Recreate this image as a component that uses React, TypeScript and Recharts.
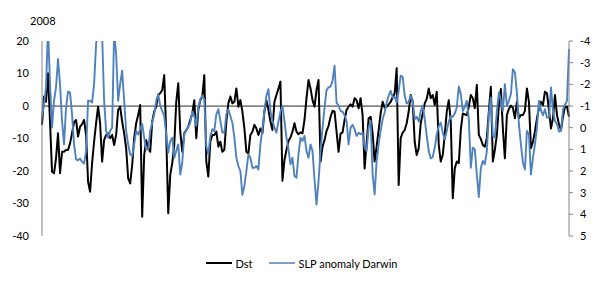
import React from 'react';
import { LineChart, Line, XAxis, YAxis, ReferenceLine, Legend } from 'recharts';

// Dst (left axis, nT) — sampled every ~2 days through 2008
const dstPart1 = [-5.8, 2.9, 1.3, 10.1, -4.8, -20.2, -20.7, -16.1, -8.4, -20.7, -14.1, -14.1, -13.5, -13.5, -11.5, -8.4, -5.0, -4.3, -9.4, -6.4, -5.6, -4.3, -8.9, -23.3, -26.4, -17.6, -11.0, -5.3, -0.2, -5.3, -17.1, -10.5, -8.9, -8.4, -9.9, -8.9, -12.0, -8.9, -1.2, -0.2, -4.8, -8.4, -13.0, -22.3, -23.8, -18.2, -9.9, -5.3, -2.8, 0.3, -34.1, -15.1, -10.5];
const dstPart2 = [-13.0, -14.1, -4.8, -1.7, -0.2, 3.4, 3.9, 4.9, 9.5, -8.9, -33.0, -21.2, -17.6, -12.0, 1.3, 7.0, -7.9, -14.1, -8.4, -7.4, -6.4, -4.3, -2.3, 1.8, -9.9, -1.2, 1.8, 2.9, 9.5, -17.1, -21.7, -11.0, -8.9, -8.9, -7.9, -12.5, -11.0, -14.1, -13.5, -4.8, 0.8, 2.9, 0.8, 1.3, 5.4, -0.2, 1.8, -1.7, -6.9, -14.1, -14.6, -8.9, -7.9];
const dstPart3 = [-5.8, -6.9, -8.9, -6.9, -8.4, -1.7, 1.8, -1.2, -4.8, -7.4, 1.3, 3.4, 5.4, 7.5, -23.0, -16.6, -13.5, -10.8, -9.7, -7.9, -5.3, -7.9, -8.7, -8.1, -8.4, -4.3, 2.4, 8.0, 5.4, 1.8, -0.2, 4.9, 8.0, -17.1, -12.5, -10.5, -7.7, -6.1, -3.3, -1.5, -1.7, -7.9, -14.1, -8.5, -8.1, -4.3, -1.2, -0.2, 0.5, -0.2, 2.4, 1.8, -0.7];
const dstPart4 = [2.4, -2.8, -19.2, -11.5, -3.8, -3.3, -8.4, -17.1, -12.5, -7.4, -2.3, 1.3, -0.5, -0.2, 0.5, 1.3, 2.6, 3.9, 11.6, -24.3, -9.9, -8.2, -7.4, -5.3, -1.7, 3.4, 1.3, -11.0, -15.1, -13.0, -5.3, -2.3, 0.8, 2.2, 5.4, 2.4, 3.4, 0.3, 4.4, -12.0, -17.1, -15.1, -8.9, -1.7, 1.8, -4.8, -28.4, -19.2, -17.1, -17.6, -7.4, -2.3, -2.6];
const dstPart5 = [-2.8, -0.2, 3.4, 2.4, -0.7, 6.5, -8.9, -10.2, -12.0, -12.5, -9.9, -1.7, 5.9, -17.1, -13.5, -8.9, 0.3, 5.2, -6.9, -16.1, -2.8, -0.9, 0.1, -0.5, -3.8, 1.3, -3.8, -2.8, -2.8, -1.5, 5.4, 1.3, -13.0, -11.0, -7.9, -3.8, -0.7, 1.3, 0.3, 4.4, 3.9, -1.2, -6.9, -3.8, 3.4, -2.8, -5.6, -7.4, -3.3, -0.2, -0.2, -3.3];

// SLP anomaly at Darwin (right axis, hPa, reversed)
const slpPart1 = [-0.54, -1.08, -1.86, -4.6, -2.01, 0.0, -1.24, -1.86, -3.17, -2.01, -0.31, 0.77, -0.93, -1.67, -1.62, -0.62, 0.77, 1.46, 1.51, 1.42, 1.57, 1.66, 1.08, -1.24, -1.24, -1.16, -2.01, -3.86, -4.5, -4.8, -4.3, -1.24, 0.15, 0.46, 0.15, 0.0, -4.4, -3.4, -1.24, -2.01, -2.63, -1.24, 0.15, 0.77, 1.23, 1.31, 0.77, 0.15, 0.31, 0.07, -0.16, 0.46, 1.0];
const slpPart2 = [1.0, 0.15, -0.23, -0.62, -1.24, -1.55, -1.01, -0.77, -0.54, 0.31, 1.15, 0.61, 0.46, 1.39, 1.08, 0.77, 2.16, 1.62, 0.31, 0.12, -0.03, -0.23, -0.74, -0.54, -0.08, -0.93, -1.31, -1.47, -1.31, 0.85, 1.23, 0.38, 0.07, 0.15, -0.62, -0.85, -0.31, 0.23, 0.23, -0.62, -0.85, -0.54, -0.23, 0.46, 1.39, 1.77, 2.0, 3.1, 2.7, 2.0, 1.23, 1.39, 1.85];
const slpPart3 = [1.85, 1.77, 1.93, 0.77, 0.07, -0.77, -1.47, -1.78, -0.77, -0.34, 0.0, 0.23, -0.28, -0.74, -1.01, -0.31, 0.46, 1.0, 1.69, 1.39, 2.23, 2.31, 1.23, 0.46, 0.61, 0.38, 1.08, 1.39, 0.77, 1.08, 2.39, 3.55, 2.47, 1.08, 0.0, -0.93, -1.73, -1.86, -1.89, -2.16, -2.86, -1.16, -1.01, -0.77, -0.74, -0.57, -0.31, 0.77, 0.0, -0.13, 0.07, 0.38, 0.23];
const slpPart4 = [0.31, 0.23, 0.92, 1.08, 0.0, -0.31, 2.16, 3.08, 1.54, 0.77, 0.15, -0.39, -0.7, -1.16, -1.47, -1.7, -1.39, -1.42, -1.16, -1.7, -2.4, -2.35, -1.47, -1.11, -1.19, -1.47, -1.24, -0.39, -0.5, -0.28, -0.77, -1.01, -0.39, 0.38, 1.08, 1.42, 1.35, 0.92, 0.31, -0.08, -0.23, 0.23, 0.54, 0.15, -0.28, -0.53, -0.5, -0.65, -0.93, -1.9, -1.55, -0.77, -0.96];
const slpPart5 = [-1.24, -0.39, 1.85, 0.92, 1.0, 2.16, 3.2, 1.85, 1.54, 1.69, 1.08, -0.62, -1.39, 0.38, 0.46, -0.77, -1.62, -1.24, -0.77, -2.01, -1.01, -1.24, -1.55, -2.7, -2.55, -1.62, -0.16, 0.77, 1.62, 1.93, 0.15, 0.31, 2.16, 1.39, 0.77, 0.0, -1.24, -0.81, -0.57, -0.85, -0.47, -0.47, -1.86, -0.77, -0.31, -0.16, 0.18, 0.15, -0.85, -1.05, -1.24, -3.63];

const dstValues = [...dstPart1, ...dstPart2, ...dstPart3, ...dstPart4, ...dstPart5];
const slpValues = [...slpPart1, ...slpPart2, ...slpPart3, ...slpPart4, ...slpPart5];

const leftTicks = [20, 10, 0, -10, -20, -30, -40];
const rightTicks = [-4, -3, -2, -1, 0, 1, 2, 3, 4, 5];
const yearLabel = '2008';
const seriesNames = { dst: 'Dst', slp: 'SLP anomaly Darwin' };

const data = dstValues.map((v, i) => ({ i, dst: v, slp: slpValues[i] }));

const FONT = 'Lato, "Open Sans", sans-serif';

const LegendContent = (props: any) => {
  const payload = props.payload || [];
  return (
    <div
      style={{
        display: 'flex',
        justifyContent: 'center',
        alignItems: 'center',
        height: 20,
        fontFamily: FONT,
        fontSize: 11,
        color: '#000',
      }}
    >
      {payload.map((p: any, idx: number) => (
        <span
          key={idx}
          style={{ display: 'inline-flex', alignItems: 'center', marginRight: idx === 0 ? 17 : 0 }}
        >
          <svg width={26} height={4} style={{ display: 'block' }}>
            <line x1={0} y1={2} x2={26} y2={2} stroke={p.color} strokeWidth={idx === 0 ? 2 : 1.5} />
          </svg>
          <span style={{ marginLeft: 3 }}>{p.value}</span>
        </span>
      ))}
    </div>
  );
};

export default function App() {
  return (
    <div style={{ position: 'absolute', left: 0, top: 0, width: 604, height: 282, background: '#fff' }}>
      <div
        style={{
          position: 'absolute',
          left: 30,
          top: 14,
          lineHeight: '14px',
          fontFamily: FONT,
          fontSize: 11,
          color: '#000',
        }}
      >
        {yearLabel}
      </div>
      <LineChart
        width={604}
        height={282}
        data={data}
        margin={{ top: 41, right: 0, left: 0, bottom: 26 }}
      >
        <XAxis dataKey="i" type="number" domain={[0, dstValues.length - 1]} hide />
        <YAxis
          yAxisId="left"
          orientation="left"
          width={42}
          domain={[-40, 20]}
          ticks={leftTicks}
          interval={0}
          allowDataOverflow
          axisLine={{ stroke: '#868686', strokeWidth: 1 }}
          tickLine={false}
          tickSize={6}
          tickMargin={7}
          tick={{ fill: '#000', fontSize: 11, fontFamily: FONT }}
        />
        <YAxis
          yAxisId="right"
          orientation="right"
          width={35}
          domain={[-4, 5]}
          reversed
          ticks={rightTicks}
          interval={0}
          allowDataOverflow
          axisLine={{ stroke: '#868686', strokeWidth: 1 }}
          tickLine={{ stroke: '#868686' }}
          tickSize={4}
          tickMargin={7}
          tick={{ fill: '#000', fontSize: 11, fontFamily: FONT, textAnchor: 'start' }}
        />
        <ReferenceLine yAxisId="left" y={0} stroke="#868686" strokeWidth={1.75} />
        <Line
          yAxisId="left"
          dataKey="dst"
          name={seriesNames.dst}
          type="linear"
          stroke="#000000"
          strokeWidth={2}
          strokeLinejoin="round"
          dot={false}
          isAnimationActive={false}
        />
        <Line
          yAxisId="right"
          dataKey="slp"
          name={seriesNames.slp}
          type="linear"
          stroke="#4F81BD"
          strokeWidth={1.9}
          strokeLinejoin="round"
          dot={false}
          isAnimationActive={false}
        />
        <Legend
          verticalAlign="bottom"
          align="center"
          content={<LegendContent />}
          wrapperStyle={{ top: 253, bottom: 'auto', left: 0, width: 604, height: 20 }}
        />
      </LineChart>
    </div>
  );
}
